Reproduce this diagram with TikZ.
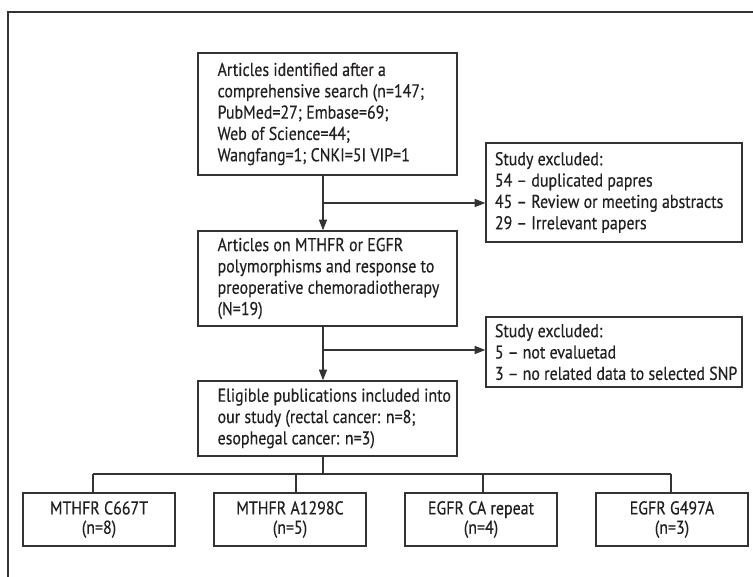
\documentclass[tikz,border=0pt]{standalone}
\usepackage{fontspec}
\setmainfont{PT Sans}[FakeStretch=0.86, FakeBold=0.4]
\usetikzlibrary{arrows.meta}
\definecolor{ln}{HTML}{333333}
\definecolor{tx}{HTML}{231F20}
\begin{document}
\begin{tikzpicture}[x=0.75pt,y=-0.75pt,
  box/.style={draw=ln, line width=1pt, inner sep=0pt},
  txt/.style={text=tx, inner sep=0pt, align=left, anchor=west,
    font=\fontsize{13.9pt}{16pt}\selectfont},
  ctxt/.style={text=tx, inner sep=0pt, align=center,
    font=\fontsize{13.9pt}{14.5pt}\selectfont},
  arr/.style={draw=ln, line width=1pt, -{Triangle[length=8pt,width=6pt]}},
  con/.style={draw=ln, line width=1pt}]
\useasboundingbox (0,0) rectangle (753,577);
% frame
\coordinate (fbl) at (8,577);
\coordinate (ftl) at (8,12);
\coordinate (ftr) at (753,12);
\draw[con] (fbl) -- (ftl) -- (ftr);
% main boxes
\node[box, minimum width=259*0.75pt, minimum height=122*0.75pt] (b1) at (327.5,114) {};
\node[txt] (t1) at ([xshift=15pt]b1.west) {Articles identified after a\\comprehensive search (n=147;\\PubMed=27; Embase=69;\\Web of Science=44;\\Wangfang=1; CNKI=5I VIP=1};
\node[box, minimum width=256*0.75pt, minimum height=99*0.75pt] (e1) at (614,192.5) {};
\node[txt] (te1) at ([xshift=7pt]e1.west) {Study excluded:\\54 -- duplicated papres\\45 -- Review or meeting abstracts\\29 -- Irrelevant papers};
\node[box, minimum width=259*0.75pt, minimum height=95*0.75pt] (b2) at (327.5,278.5) {};
\node[txt] (t2) at ([xshift=15pt]b2.west) {Articles on MTHFR or EGFR\\polymorphisms and response to\\preoperative chemoradiotherapy\\(N=19)};
\node[box, minimum width=256*0.75pt, minimum height=70*0.75pt] (e2) at (614,352) {};
\node[txt] (te2) at ([xshift=7pt]e2.west) {Study excluded:\\5 -- not evaluetad\\3 -- no related data to selected SNP};
\node[box, minimum width=259*0.75pt, minimum height=75*0.75pt] (b3) at (327.5,418.5) {};
\node[txt] (t3) at ([xshift=15pt]b3.west) {Eligible publications included into\\our study (rectal cancer: n=8;\\esophegal cancer: n=3)};
% small boxes
\node[box, minimum width=152*0.75pt, minimum height=53*0.75pt] (sa) at (99,519.5) {};
\node[ctxt] (tsa) at (sa.center) {MTHFR C667T\\(n=8)};
\node[box, minimum width=152*0.75pt, minimum height=53*0.75pt] (sb) at (290,519.5) {};
\node[ctxt] (tsb) at (sb.center) {MTHFR A1298C\\(n=5)};
\node[box, minimum width=152*0.75pt, minimum height=53*0.75pt] (sc) at (481,519.5) {};
\node[ctxt] (tsc) at (sc.center) {EGFR CA repeat\\(n=4)};
\node[box, minimum width=152*0.75pt, minimum height=53*0.75pt] (sd) at (672,519.5) {};
\node[ctxt] (tsd) at (sd.center) {EGFR G497A\\(n=3)};
% connectors
\coordinate (spine) at (323,0);
\draw[arr] (b1.south -| spine) -- (b2.north -| spine);
\coordinate (j1) at (323,203);
\draw[arr] (j1) -- (j1 -| e1.west);
\draw[arr] (b2.south -| spine) -- (b3.north -| spine);
\coordinate (j2) at (323,350);
\draw[arr] (j2) -- (j2 -| e2.west);
\coordinate (tm) at (323,474);
\coordinate (ta) at (93,474);
\coordinate (tb) at (296,474);
\coordinate (tc) at (483,474);
\coordinate (td) at (671,474);
\draw[con] (b3.south -| spine) -- (tm);
\draw[con] (ta) -- (td);
\draw[con] (ta) -- (ta |- sa.north);
\draw[con] (tb) -- (tb |- sb.north);
\draw[con] (tc) -- (tc |- sc.north);
\draw[con] (td) -- (td |- sd.north);
\end{tikzpicture}
\end{document}
